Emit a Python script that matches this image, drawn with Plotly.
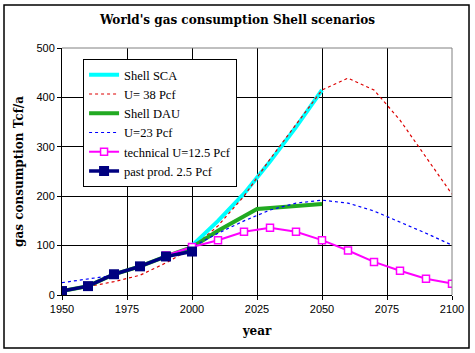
import plotly.graph_objects as go

sca_years = [2000, 2010, 2020, 2025, 2030, 2040, 2050]
sca_vals = [100, 150, 205, 237, 270, 340, 415]

u38_years = [1960, 1970, 1980, 1990, 2000, 2010, 2020, 2030, 2040, 2050, 2060, 2070, 2080, 2090, 2100]
u38_vals = [17, 27, 40, 65, 95, 140, 200, 275, 345, 415, 439, 415, 354, 279, 204]

dau_years = [1950, 1960, 1970, 1980, 1990, 2000, 2010, 2020, 2025, 2030, 2040, 2050]
dau_vals = [8, 18, 42, 58, 78, 97, 130, 160, 174, 176, 180, 184]

u23_years = [1950, 1960, 1970, 1980, 1990, 2000, 2010, 2020, 2030, 2040, 2050, 2060, 2070, 2080, 2090, 2100]
u23_vals = [25, 32, 40, 58, 78, 97, 125, 150, 172, 186, 192, 186, 170, 148, 125, 101]

tech_years = [1990, 2000, 2010, 2020, 2030, 2040, 2050, 2060, 2070, 2080, 2090, 2100]
tech_vals = [80, 97, 111, 128, 136, 128, 111, 90, 67, 49, 33, 23]

past_years = [1950, 1960, 1970, 1980, 1990, 2000]
past_vals = [8, 18, 42, 58, 78, 88]

x_ticks = [1950, 1975, 2000, 2025, 2050, 2075, 2100]
y_ticks = [0, 100, 200, 300, 400, 500]

fig = go.Figure()
fig.add_trace(go.Scatter(x=sca_years, y=sca_vals, name="Shell SCA", mode="lines",
                         line=dict(color="#00ffff", width=4)))
fig.add_trace(go.Scatter(x=u38_years, y=u38_vals, name="U= 38 Pcf", mode="lines",
                         line=dict(color="#dd0000", width=1.2, dash="3px,3px")))
fig.add_trace(go.Scatter(x=dau_years, y=dau_vals, name="Shell DAU", mode="lines",
                         line=dict(color="#22aa22", width=4)))
fig.add_trace(go.Scatter(x=u23_years, y=u23_vals, name="U=23 Pcf", mode="lines",
                         line=dict(color="#0000ff", width=1.2, dash="3px,3px")))
fig.add_trace(go.Scatter(x=tech_years, y=tech_vals, name="technical U=12.5 Pcf", mode="lines+markers",
                         line=dict(color="#ff00ff", width=2),
                         marker=dict(symbol="square", size=7, color="white",
                                     line=dict(color="#ff00ff", width=1.5))))
fig.add_trace(go.Scatter(x=past_years, y=past_vals, name="past prod. 2.5 Pcf", mode="lines+markers",
                         line=dict(color="#000080", width=3.5),
                         marker=dict(symbol="square", size=10, color="#000080")))

fig.update_layout(
    width=475, height=353,
    margin=dict(l=62, r=23, t=48, b=58),
    paper_bgcolor="white", plot_bgcolor="white",
    title=dict(text="<b>World's gas consumption Shell scenarios</b>", x=0.5, xanchor="center",
               y=1 - 20 / 353, yanchor="middle",
               font=dict(family="DejaVu Serif", size=12, color="black")),
    showlegend=True,
    legend=dict(x=0.054, y=0.955, xanchor="left", yanchor="top",
                bgcolor="white", bordercolor="black", borderwidth=1,
                font=dict(family="Liberation Serif", size=12.5, color="black"),
                tracegroupgap=0, itemwidth=30),
    font=dict(family="Liberation Sans", size=11, color="black"),
)
fig.update_xaxes(range=[1950, 2100], tickvals=x_ticks, showgrid=True, gridcolor="black", gridwidth=1,
                 showline=True, linecolor="black", linewidth=1, ticks="outside", ticklen=4,
                 tickcolor="black", zeroline=False,
                 title=dict(text="<b>year</b>", font=dict(family="DejaVu Serif", size=12), standoff=12))
fig.update_yaxes(range=[0, 500], tickvals=y_ticks, showgrid=True, gridcolor="black", gridwidth=1,
                 showline=True, linecolor="black", linewidth=1, ticks="outside", ticklen=4,
                 tickcolor="black", zeroline=False,
                 title=dict(text="<b>gas consumption Tcf/a</b>", font=dict(family="DejaVu Serif", size=12),
                            standoff=10))
# gray top/right plot border
fig.add_shape(type="line", xref="paper", yref="paper", x0=0, x1=1, y0=1, y1=1,
              line=dict(color="gray", width=1), layer="above")
fig.add_shape(type="line", xref="paper", yref="paper", x0=1, x1=1, y0=0, y1=1,
              line=dict(color="gray", width=1), layer="above")
# outer chart border
fig.add_shape(type="rect", xref="paper", yref="paper", x0=-0.1487, x1=1.0436, y0=-0.2146, y1=1.174,
              line=dict(color="black", width=1.5), layer="above")

fig.write_html("out.html")
